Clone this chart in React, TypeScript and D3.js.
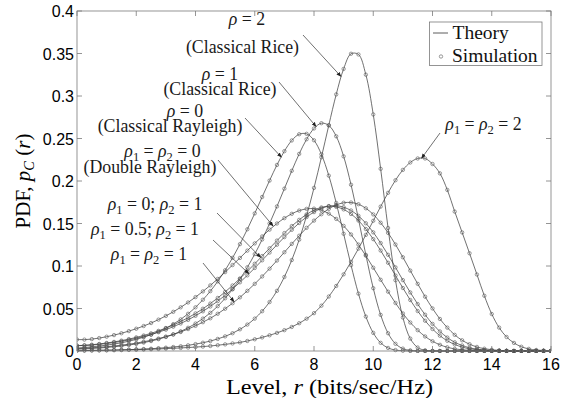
import React from 'react';
import * as d3 from 'd3';

// x grid (Level r, bits/sec/Hz)
const levels = [
  0, 0.25, 0.5, 0.75, 1, 1.25, 1.5, 1.75, 2, 2.25, 2.5, 2.75, 3, 3.25, 3.5, 3.75,
  4, 4.25, 4.5, 4.75, 5, 5.25, 5.5, 5.75, 6, 6.25, 6.5, 6.75, 7, 7.25, 7.5, 7.75,
  8, 8.25, 8.5, 8.75, 9, 9.25, 9.5, 9.75, 10, 10.25, 10.5, 10.75, 11, 11.25, 11.5, 11.75,
  12, 12.25, 12.5, 12.75, 13, 13.25, 13.5, 13.75, 14, 14.25, 14.5, 14.75, 15, 15.25, 15.5, 15.75, 16,
];

// rho = 0 (Classical Rayleigh)
const rayleigh = [
  0.0035, 0.0041, 0.0049, 0.0058, 0.0069, 0.0082, 0.0097, 0.0115, 0.0137, 0.0162, 0.0192, 0.0227, 0.0268, 0.0316, 0.0372, 0.0438,
  0.0514, 0.0603, 0.0704, 0.0819, 0.095, 0.1096, 0.1257, 0.1432, 0.1619, 0.1812, 0.2005, 0.2189, 0.2351, 0.2477, 0.255, 0.2555,
  0.2479, 0.2314, 0.2063, 0.1742, 0.1379, 0.101, 0.0675, 0.0405, 0.0213, 0.0096, 0.0036, 0.0011, 0.0003, 0, 0, 0,
  0, 0, 0, 0, 0, 0, 0, 0, 0, 0, 0, 0, 0, 0, 0, 0, 0,
];

// rho = 1 (Classical Rice)
const rice1 = [
  0.0021, 0.0025, 0.003, 0.0035, 0.0042, 0.005, 0.0059, 0.007, 0.0083, 0.0099, 0.0117, 0.0139, 0.0165, 0.0195, 0.0231, 0.0273,
  0.0323, 0.0381, 0.0449, 0.0528, 0.062, 0.0726, 0.0847, 0.0985, 0.114, 0.1312, 0.15, 0.1701, 0.191, 0.212, 0.2319, 0.2491,
  0.2618, 0.268, 0.2654, 0.2526, 0.229, 0.1956, 0.1554, 0.1131, 0.0739, 0.0425, 0.0209, 0.0085, 0.0028, 0.0007, 0.0001, 0,
  0, 0, 0, 0, 0, 0, 0, 0, 0, 0, 0, 0, 0, 0, 0, 0, 0,
];

// rho = 2 (Classical Rice)
const rice2 = [
  0.0005, 0.0006, 0.0007, 0.0008, 0.0009, 0.0011, 0.0013, 0.0016, 0.0019, 0.0023, 0.0027, 0.0033, 0.0039, 0.0047, 0.0056, 0.0067,
  0.0081, 0.0097, 0.0117, 0.0142, 0.0172, 0.0209, 0.0255, 0.0311, 0.0381, 0.0468, 0.0576, 0.0708, 0.0871, 0.107, 0.131, 0.1593,
  0.1919, 0.2279, 0.2657, 0.3019, 0.3319, 0.3497, 0.3489, 0.3251, 0.2783, 0.2143, 0.1447, 0.0833, 0.0394, 0.0146, 0.0041, 0.0008,
  0.0001, 0, 0, 0, 0, 0, 0, 0, 0, 0, 0, 0, 0, 0, 0, 0, 0,
];

// rho1 = rho2 = 0 (Double Rayleigh)
const doubleRayleigh = [
  0.0135, 0.0134, 0.014, 0.0152, 0.0168, 0.0187, 0.0209, 0.0234, 0.0262, 0.0294, 0.0329, 0.0369, 0.0413, 0.0461, 0.0514, 0.0571,
  0.0634, 0.0701, 0.0772, 0.0848, 0.0928, 0.1011, 0.1095, 0.1181, 0.1266, 0.1348, 0.1428, 0.15, 0.1563, 0.1614, 0.1652, 0.1672,
  0.1675, 0.1656, 0.1616, 0.1554, 0.1472, 0.1371, 0.1252, 0.1121, 0.098, 0.0838, 0.0698, 0.0565, 0.0442, 0.0335, 0.0245, 0.0171,
  0.0115, 0.0073, 0.0044, 0.0025, 0.0014, 0.0007, 0.0003, 0.0001, 0, 0, 0, 0, 0, 0, 0, 0, 0,
];

// rho1 = 0; rho2 = 1
const dbl01 = [
  0.0064, 0.0067, 0.0074, 0.0083, 0.0094, 0.0107, 0.0122, 0.014, 0.016, 0.0182, 0.0208, 0.0237, 0.027, 0.0306, 0.0347, 0.0392,
  0.0442, 0.0497, 0.0558, 0.0624, 0.0695, 0.0771, 0.0853, 0.0938, 0.1026, 0.1117, 0.1209, 0.1299, 0.1387, 0.147, 0.1543, 0.1607,
  0.1657, 0.1689, 0.1704, 0.1696, 0.1666, 0.1612, 0.1535, 0.1435, 0.1316, 0.1182, 0.1038, 0.0888, 0.0741, 0.06, 0.047, 0.0356,
  0.0259, 0.018, 0.012, 0.0077, 0.0046, 0.0026, 0.0015, 0.0007, 0.0003, 0.0001, 0, 0, 0, 0, 0, 0, 0,
];

// rho1 = 0.5; rho2 = 1
const dbl051 = [
  0.0062, 0.0065, 0.007, 0.0078, 0.0088, 0.01, 0.0114, 0.013, 0.0149, 0.0169, 0.0193, 0.0221, 0.0251, 0.0286, 0.0324, 0.0366,
  0.0414, 0.0467, 0.0524, 0.0587, 0.0655, 0.0729, 0.0808, 0.089, 0.0977, 0.1067, 0.1158, 0.125, 0.134, 0.1426, 0.1506, 0.1576,
  0.1634, 0.1678, 0.1704, 0.1709, 0.1692, 0.1653, 0.159, 0.1503, 0.1396, 0.127, 0.1132, 0.0984, 0.0834, 0.0689, 0.0552, 0.0427,
  0.0319, 0.023, 0.0158, 0.0103, 0.0065, 0.0038, 0.0022, 0.0012, 0.0006, 0.0003, 0.0001, 0, 0, 0, 0, 0, 0,
];

// rho1 = rho2 = 1
const dbl11 = [
  0.0029, 0.0032, 0.0038, 0.0044, 0.005, 0.0059, 0.0069, 0.008, 0.0093, 0.0109, 0.0126, 0.0146, 0.0169, 0.0195, 0.0224, 0.0258,
  0.0296, 0.0339, 0.0385, 0.0438, 0.0497, 0.0562, 0.0631, 0.0708, 0.079, 0.0877, 0.0969, 0.1064, 0.1162, 0.126, 0.1356, 0.1449,
  0.1534, 0.1609, 0.1672, 0.1718, 0.1744, 0.1747, 0.1727, 0.1679, 0.1607, 0.1509, 0.139, 0.1253, 0.1103, 0.0946, 0.079, 0.0639,
  0.0501, 0.0377, 0.0275, 0.019, 0.0126, 0.008, 0.0048, 0.0027, 0.0015, 0.0007, 0.0003, 0.0001, 0, 0, 0, 0, 0,
];

// rho1 = rho2 = 2
const dbl22 = [
  0.0005, 0.0006, 0.0007, 0.0008, 0.0009, 0.001, 0.0012, 0.0014, 0.0016, 0.0018, 0.0021, 0.0024, 0.0028, 0.0032, 0.0036, 0.0041,
  0.0046, 0.0052, 0.0059, 0.0068, 0.0078, 0.0089, 0.0101, 0.0118, 0.0138, 0.016, 0.0185, 0.0213, 0.0245, 0.0283, 0.0327, 0.038,
  0.0445, 0.0533, 0.0641, 0.0765, 0.0902, 0.1049, 0.1204, 0.1366, 0.1532, 0.1699, 0.1861, 0.2009, 0.2131, 0.2218, 0.2265, 0.2265,
  0.22, 0.209, 0.1895, 0.164, 0.1395, 0.115, 0.09, 0.065, 0.0435, 0.0275, 0.0165, 0.0095, 0.005, 0.0025, 0.0012, 0.0005, 0.0002,
];

const seriesList = [rayleigh, rice1, rice2, doubleRayleigh, dbl01, dbl051, dbl11, dbl22];

const xTicks = [0, 2, 4, 6, 8, 10, 12, 14, 16];
const xTickLabels = ['0', '2', '4', '6', '8', '10', '12', '14', '16'];
const yTicks = [0, 0.05, 0.1, 0.15, 0.2, 0.25, 0.3, 0.35, 0.4];
const yTickLabels = ['0', '0.05', '0.1', '0.15', '0.2', '0.25', '0.3', '0.35', '0.4'];

const legendLabels = ['Theory', 'Simulation'];

type Seg = { t: string; it?: boolean; sub?: boolean };

// annotation texts and the data point each arrow points to
const annoTexts: Seg[][][] = [
  [[{ t: 'ρ', it: true }, { t: ' = 2' }], [{ t: '(Classical Rice)' }]],
  [[{ t: 'ρ', it: true }, { t: ' = 1' }], [{ t: '(Classical Rice)' }]],
  [[{ t: 'ρ', it: true }, { t: ' = 0' }], [{ t: '(Classical Rayleigh)' }]],
  [[{ t: 'ρ', it: true }, { t: '1', sub: true }, { t: ' = ' }, { t: 'ρ', it: true }, { t: '2', sub: true }, { t: ' = 0' }], [{ t: '(Double Rayleigh)' }]],
  [[{ t: 'ρ', it: true }, { t: '1', sub: true }, { t: ' = 0; ' }, { t: 'ρ', it: true }, { t: '2', sub: true }, { t: ' = 1' }]],
  [[{ t: 'ρ', it: true }, { t: '1', sub: true }, { t: ' = 0.5; ' }, { t: 'ρ', it: true }, { t: '2', sub: true }, { t: ' = 1' }]],
  [[{ t: 'ρ', it: true }, { t: '1', sub: true }, { t: ' = ' }, { t: 'ρ', it: true }, { t: '2', sub: true }, { t: ' = 1' }]],
  [[{ t: 'ρ', it: true }, { t: '1', sub: true }, { t: ' = ' }, { t: 'ρ', it: true }, { t: '2', sub: true }, { t: ' = 2' }]],
];
const annoTipX = [8.91, 8.07, 6.9, 6.62, 6.2, 5.8, 5.3, 11.63];
const annoTipY = [0.323, 0.264, 0.228, 0.147, 0.11, 0.091, 0.058, 0.2267];

// layout (pixels)
const annoLayout = [
  { cx: [247, 242.5], by: [25, 53], tail: [303, 35] },
  { cx: [220, 220], by: [80, 95], tail: [279, 82] },
  { cx: [185, 170], by: [117, 131.5], tail: [245, 118] },
  { cx: [162.5, 150], by: [157, 173], tail: [218, 160] },
  { cx: [155], by: [210], tail: [217, 213] },
  { cx: [145], by: [235], tail: [213, 240] },
  { cx: [149], by: [260], tail: [203, 263] },
  { cx: [483.5], by: [130], tail: [440, 133] },
];

const SERIF = "'Liberation Serif', 'Times New Roman', serif";
const SANS = "'Liberation Sans', Arial, sans-serif";

function renderSegs(segs: Seg[], subSize: number, shift: number) {
  let cur = 0;
  return segs.map((s, i) => {
    const target = s.sub ? shift : 0;
    const dy = target - cur;
    cur = target;
    return (
      <tspan
        key={i}
        dy={dy !== 0 ? dy : undefined}
        fontStyle={s.it ? 'italic' : undefined}
        fontSize={s.sub ? subSize : undefined}
      >
        {s.t}
      </tspan>
    );
  });
}

export default function App() {
  const left = 77, right = 551, top = 11, bottom = 351;
  const x = d3.scaleLinear().domain([0, 16]).range([left, right]);
  const y = d3.scaleLinear().domain([0, 0.4]).range([bottom, top]);
  const line = d3
    .line<number>()
    .x((_, i) => x(levels[i]))
    .y((d) => y(d))
    .curve(d3.curveCatmullRom.alpha(0.5));

  const lineColor = '#333';
  const markColor = '#555';
  const axisColor = '#7a7a7a';

  return (
    <svg
      width={566}
      height={398}
      style={{ position: 'absolute', left: 0, top: 0, background: '#fff' }}
    >
      <defs>
        <marker id="ah" viewBox="0 0 10 10" refX="9" refY="5" markerWidth="5" markerHeight="5" orient="auto" markerUnits="userSpaceOnUse">
          <path d="M0,1 L10,5 L0,9 z" fill="#222" />
        </marker>
        <clipPath id="plot">
          <rect x={left} y={top - 2} width={right - left} height={bottom - top + 4} />
        </clipPath>
      </defs>
      <rect x={0} y={0} width={566} height={398} fill="#fff" />

      {/* curves */}
      <g clipPath="url(#plot)">
        {seriesList.map((s, k) => (
          <path key={k} d={line(s) || ''} fill="none" stroke={lineColor} strokeWidth={0.7} />
        ))}
        {seriesList.map((s, k) => (
          <g key={'m' + k}>
            {s.map((v, i) => (
              <circle key={i} cx={x(levels[i])} cy={y(v)} r={1.7} fill="none" stroke={markColor} strokeWidth={0.6} />
            ))}
          </g>
        ))}
      </g>

      {/* axes box */}
      <rect x={left} y={top} width={right - left} height={bottom - top} fill="none" stroke={axisColor} strokeWidth={0.8} />
      {xTicks.map((t, i) => (
        <g key={'xt' + i}>
          <line x1={x(t)} x2={x(t)} y1={bottom} y2={bottom - 5} stroke={axisColor} strokeWidth={0.8} />
          <line x1={x(t)} x2={x(t)} y1={top} y2={top + 5} stroke={axisColor} strokeWidth={0.8} />
          <text x={x(t)} y={370} textAnchor="middle" fontFamily={SANS} fontSize={16} fill="#000">
            {xTickLabels[i]}
          </text>
        </g>
      ))}
      {yTicks.map((t, i) => (
        <g key={'yt' + i}>
          <line x1={left} x2={left + 5} y1={y(t)} y2={y(t)} stroke={axisColor} strokeWidth={0.8} />
          <line x1={right} x2={right - 5} y1={y(t)} y2={y(t)} stroke={axisColor} strokeWidth={0.8} />
          <text x={74} y={y(t) + 6} textAnchor="end" fontFamily={SANS} fontSize={16} fill="#000">
            {yTickLabels[i]}
          </text>
        </g>
      ))}

      {/* axis labels */}
      <text x={226} y={394} fontFamily={SERIF} fontSize={21} textLength={207} lengthAdjust="spacingAndGlyphs" style={{ whiteSpace: 'pre' }}>
        {'Level, '}
        <tspan fontStyle="italic">r</tspan>
        {' (bits/sec/Hz)'}
      </text>
      <text transform="translate(30,181) rotate(-90)" textAnchor="middle" fontFamily={SERIF} fontSize={21} style={{ whiteSpace: 'pre' }}>
        {'PDF, '}
        <tspan fontStyle="italic">p</tspan>
        <tspan fontStyle="italic" fontSize={14.5} dy={4}>C</tspan>
        <tspan dy={-4}>{' ('}</tspan>
        <tspan fontStyle="italic">r</tspan>
        <tspan>)</tspan>
      </text>

      {/* annotations */}
      {annoTexts.map((lines, k) => {
        const L = annoLayout[k];
        return (
          <g key={'a' + k}>
            <line
              x1={L.tail[0]}
              y1={L.tail[1]}
              x2={x(annoTipX[k])}
              y2={y(annoTipY[k])}
              stroke="#333"
              strokeWidth={0.7}
              markerEnd="url(#ah)"
            />
            {lines.map((segs, j) => (
              <text
                key={j}
                x={L.cx[j]}
                y={L.by[j]}
                textAnchor="middle"
                fontFamily={SERIF}
                fontSize={17.8}
                fill="#1a1a1a"
                style={{ whiteSpace: 'pre' }}
              >
                {renderSegs(segs, 12.5, 4)}
              </text>
            ))}
          </g>
        );
      })}

      {/* legend */}
      <rect x={429.5} y={22} width={112.5} height={43.5} fill="#fff" stroke={axisColor} strokeWidth={0.8} />
      <line x1={433} x2={448} y1={33} y2={33} stroke={lineColor} strokeWidth={0.8} />
      <text x={452.5} y={39} fontFamily={SERIF} fontSize={19.5} fill="#111">{legendLabels[0]}</text>
      <circle cx={441} cy={56.5} r={1.7} fill="none" stroke={markColor} strokeWidth={0.6} />
      <text x={452} y={62} fontFamily={SERIF} fontSize={19.5} fill="#111">{legendLabels[1]}</text>
    </svg>
  );
}
